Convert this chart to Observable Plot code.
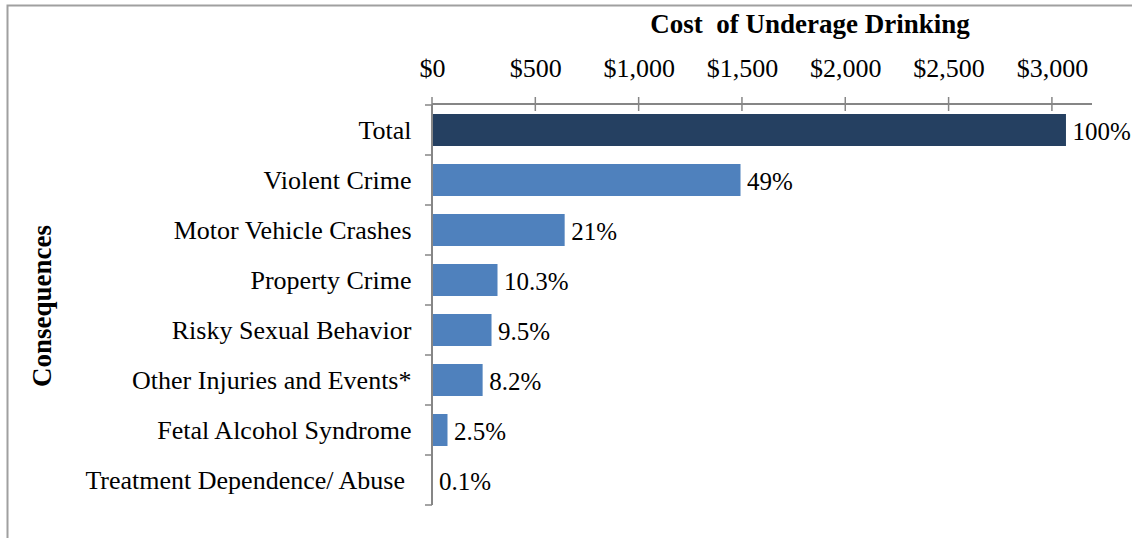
<!DOCTYPE html>
<html>
<head>
<meta charset="utf-8">
<script src="https://cdn.jsdelivr.net/npm/d3@7"></script>
<script src="https://cdn.jsdelivr.net/npm/@observablehq/plot@0.6"></script>
<style>
  html, body { margin: 0; padding: 0; background: #fff; }
  #chart svg { display: block; }
  #chart svg, #chart svg text { font-family: 'Liberation Serif', 'Times New Roman', serif !important; }
</style>
</head>
<body>
<div id="chart"></div>
<script>
const categories = [
  "Total",
  "Violent Crime",
  "Motor Vehicle Crashes",
  "Property Crime",
  "Risky Sexual Behavior",
  "Other Injuries and Events*",
  "Fetal Alcohol Syndrome",
  "Treatment Dependence/ Abuse\u00a0"
];
const costs = [3068, 1493, 642, 317, 288, 245, 75, 3];
const shareLabels = ["100%", "49%", "21%", "10.3%", "9.5%", "8.2%", "2.5%", "0.1%"];
const xTicks = [0, 500, 1000, 1500, 2000, 2500, 3000];
const chartTitle = "Cost  of Underage Drinking";
const yTitle = "Consequences";

const data = categories.map((c, i) => ({category: c, cost: costs[i], label: shareLabels[i], total: i === 0}));

const FONT = "'Liberation Serif', 'Times New Roman', serif";
const axisGray = "#868686";

const plot = Plot.plot({
  width: 1132,
  height: 538,
  marginLeft: 432,
  marginRight: 40,
  marginTop: 105,
  marginBottom: 33,
  style: {fontFamily: FONT, fontSize: "26px", color: "#000", background: "#fff", overflow: "visible"},
  x: {domain: [0, 3194], axis: null},
  y: {domain: categories, paddingInner: 0.36, paddingOuter: 0.18, axis: null},
  marks: [
    Plot.axisX({
      anchor: "top",
      ticks: xTicks,
      tickSize: 0,
      tickPadding: 29,
      tickFormat: d => "$" + d3.format(",")(d),
      fontSize: 26,
      fontFamily: FONT,
      label: null
    }),
    Plot.axisY({
      anchor: "left",
      tickSize: 0,
      tickPadding: 21,
      fontSize: 26,
      fontFamily: FONT,
      label: null
    }),
    Plot.barX(data, {
      x: "cost",
      y: "category",
      fill: d => d.total ? "#254061" : "#4F81BD"
    }),
    Plot.text(data, {
      x: "cost",
      y: "category",
      text: "label",
      textAnchor: "start",
      dx: 6,
      dy: 1,
      fontSize: 25,
      fontFamily: FONT,
      fill: "#000"
    })
  ]
});

document.getElementById("chart").appendChild(plot);

// Excel-style axis lines and tick marks drawn from Plot's own scales
const svg = d3.select(plot);
const xs = plot.scale("x");
const ys = plot.scale("y");
const x0 = xs.apply(0);
const xEnd = xs.range[1];
const yTop = ys.range[0];
const yBot = ys.range[1];
const step = ys.step;
const gap = step - ys.bandwidth;

const g = svg.append("g").attr("stroke", axisGray).attr("fill", "none");
// vertical category axis
g.append("line").attr("x1", x0).attr("x2", x0).attr("y1", yTop).attr("y2", yBot).attr("stroke-width", 2);
const bounds = categories.map(c => ys.apply(c) - gap / 2).concat([ys.apply(categories[categories.length - 1]) + ys.bandwidth + gap / 2]);
bounds.forEach(b => g.append("line").attr("x1", x0 - 7).attr("x2", x0).attr("y1", b).attr("y2", b).attr("stroke-width", 1.5));
// horizontal value axis at top
g.append("line").attr("x1", x0).attr("x2", xEnd).attr("y1", yTop - 1).attr("y2", yTop - 1).attr("stroke-width", 2);
xTicks.forEach(v => g.append("line").attr("x1", xs.apply(v)).attr("x2", xs.apply(v)).attr("y1", yTop - 8).attr("y2", yTop + 6).attr("stroke-width", 1.5));

// chart border
svg.insert("rect", ":first-child")
  .attr("x", 7.5).attr("y", 5.5).attr("width", 1200).attr("height", 600)
  .attr("fill", "none").attr("stroke", "#A0A0A0").attr("stroke-width", 2);

// title
svg.append("text")
  .attr("x", 810).attr("y", 33)
  .attr("text-anchor", "middle")
  .attr("font-family", FONT).attr("font-weight", "bold").attr("font-size", 27)
  .attr("xml:space", "preserve")
  .attr("fill", "#000")
  .text(chartTitle);

// y-axis title
svg.append("text")
  .attr("transform", "translate(51,306) rotate(-90)")
  .attr("text-anchor", "middle")
  .attr("font-family", FONT).attr("font-weight", "bold").attr("font-size", 27)
  .attr("fill", "#000")
  .text(yTitle);
</script>
</body>
</html>
